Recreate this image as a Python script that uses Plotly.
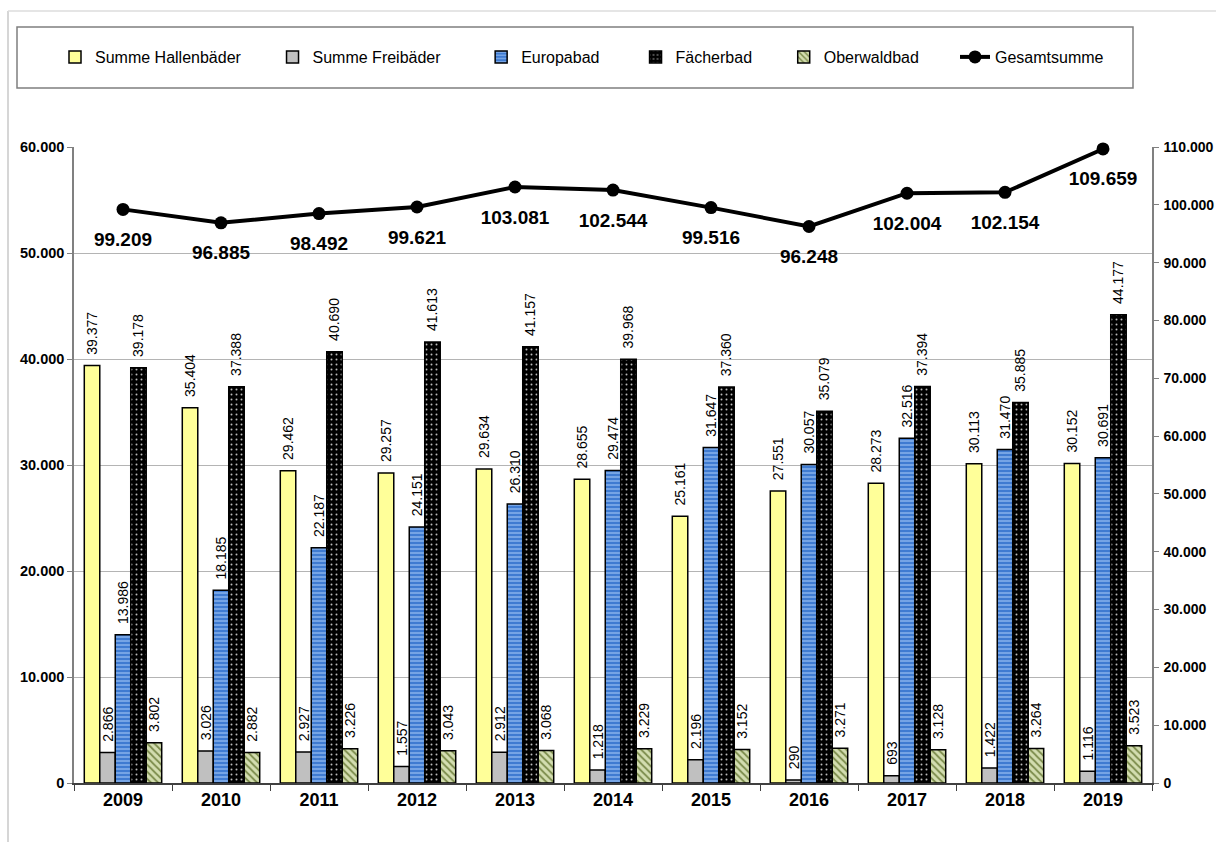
import plotly.graph_objects as go

years = ["2009", "2010", "2011", "2012", "2013", "2014", "2015", "2016", "2017", "2018", "2019"]
hallen = [39377, 35404, 29462, 29257, 29634, 28655, 25161, 27551, 28273, 30113, 30152]
frei = [2866, 3026, 2927, 1557, 2912, 1218, 2196, 290, 693, 1422, 1116]
europa = [13986, 18185, 22187, 24151, 26310, 29474, 31647, 30057, 32516, 31470, 30691]
faecher = [39178, 37388, 40690, 41613, 41157, 39968, 37360, 35079, 37394, 35885, 44177]
oberwald = [3802, 2882, 3226, 3043, 3068, 3229, 3152, 3271, 3128, 3264, 3523]
gesamt = [99209, 96885, 98492, 99621, 103081, 102544, 99516, 96248, 102004, 102154, 109659]

series_names = ["Summe Hallenbäder", "Summe Freibäder", "Europabad", "Fächerbad", "Oberwaldbad", "Gesamtsumme"]

FONT = "Liberation Sans, Arial, sans-serif"
W, H = 1216, 842
L, R, T, B = 74, 1152, 147, 783
NB = "\u00a0"


def px(x):
    return (x - L) / (R - L)


def py(y):
    return (B - y) / (B - T)


# extra legend spacing (non-breaking spaces) to mimic the original's item spacing
pad = [6, 8, 7, 6, 7, 0]
leg_names = [n + NB * p for n, p in zip(series_names, pad)]

fig = go.Figure()

bar_common = dict(
    texttemplate=NB + NB + "%{y:,}",
    textposition="outside",
    textangle=-90,
    constraintext="none",
    cliponaxis=False,
    textfont=dict(family=FONT, size=14, color="black"),
)

fig.add_trace(go.Bar(name=leg_names[0], x=years, y=hallen,
                     marker=dict(color="#FFFF99", line=dict(color="black", width=1.5)), **bar_common))
fig.add_trace(go.Bar(name=leg_names[1], x=years, y=frei,
                     marker=dict(color="#C0C0C0", line=dict(color="black", width=1.5)), **bar_common))
fig.add_trace(go.Bar(name=leg_names[2], x=years, y=europa,
                     marker=dict(color="#3F7BD1", line=dict(color="black", width=1.5),
                                 pattern=dict(shape="-", fgcolor="#8DB6EE", bgcolor="#3F7BD1",
                                              size=4, solidity=0.35, fillmode="replace")),
                     **bar_common))
fig.add_trace(go.Bar(name=leg_names[3], x=years, y=faecher,
                     marker=dict(color="black", line=dict(color="black", width=1.5),
                                 pattern=dict(shape=".", fgcolor="#BBBBBB", bgcolor="black",
                                              size=5, solidity=0.12, fillmode="replace")),
                     **bar_common))
fig.add_trace(go.Bar(name=leg_names[4], x=years, y=oberwald,
                     marker=dict(color="#D3DDB0", line=dict(color="black", width=1.5),
                                 pattern=dict(shape="\\", fgcolor="#7A8A4A", bgcolor="#D3DDB0",
                                              size=5, solidity=0.35, fillmode="replace")),
                     **bar_common))
fig.add_trace(go.Scatter(name=leg_names[5], x=years, y=gesamt, yaxis="y2",
                         mode="lines+markers",
                         line=dict(color="black", width=4),
                         marker=dict(color="black", size=13),
                         cliponaxis=False))
# value labels of the total line, placed below the points
fig.add_trace(go.Scatter(name="Gesamtsumme Werte", x=years, y=gesamt, yaxis="y2",
                         mode="markers+text", showlegend=False, hoverinfo="skip",
                         marker=dict(color="rgba(0,0,0,0)", size=34),
                         texttemplate="%{y:,}", textposition="bottom center",
                         textfont=dict(family=FONT, size=19, color="black", weight="bold"),
                         cliponaxis=False))

shapes = [
    # outer frame (left and top)
    dict(type="line", xref="paper", yref="paper", x0=px(8), x1=px(8), y0=py(842), y1=py(11),
         line=dict(color="#C8C8C8", width=1.5)),
    dict(type="line", xref="paper", yref="paper", x0=px(8), x1=px(1216), y0=py(11), y1=py(11),
         line=dict(color="#DDDDDD", width=1.5)),
    # legend box
    dict(type="rect", xref="paper", yref="paper", x0=px(17), x1=px(1133), y0=py(88), y1=py(27),
         line=dict(color="#7F7F7F", width=1.5), fillcolor="rgba(0,0,0,0)"),
]

fig.update_layout(
    width=W, height=H,
    margin=dict(l=L, r=W - R, t=T, b=H - B, pad=0, autoexpand=False),
    paper_bgcolor="white", plot_bgcolor="white",
    separators=",.",
    barmode="group", bargap=0.21, bargroupgap=0.0,
    font=dict(family=FONT, color="black"),
    showlegend=True,
    legend=dict(orientation="h", xref="container", yref="container",
                x=55 / W, xanchor="left", y=1 - 57 / H, yanchor="middle",
                font=dict(family=FONT, size=16, color="black"),
                bgcolor="rgba(0,0,0,0)", borderwidth=0, traceorder="normal"),
    shapes=shapes,
    xaxis=dict(type="category", range=[-0.5, len(years) - 0.5], autorange=False,
               showline=True, linecolor="#404040", linewidth=1.5,
               ticks="outside", tickson="boundaries", ticklen=6, tickcolor="#404040",
               tickfont=dict(family=FONT, size=18, color="black", weight="bold"),
               showgrid=False),
    yaxis=dict(range=[0, 60000], dtick=10000, tickformat=",.0f",
               showline=True, linecolor="#808080", linewidth=1.5,
               ticks="outside", ticklen=5, tickcolor="#808080",
               showgrid=True, gridcolor="#B4B4B4", gridwidth=1,
               zeroline=False,
               tickfont=dict(family=FONT, size=14.5, color="black", weight="bold")),
    yaxis2=dict(range=[0, 110000], dtick=10000, tickformat=",.0f", overlaying="y", side="right",
                showline=True, linecolor="#808080", linewidth=1.5,
                ticks="outside", ticklen=5, tickcolor="#808080", ticklabelstandoff=2,
                showgrid=False, zeroline=False,
                tickfont=dict(family=FONT, size=14, color="black", weight="bold")),
)

fig.write_html("out.html")
